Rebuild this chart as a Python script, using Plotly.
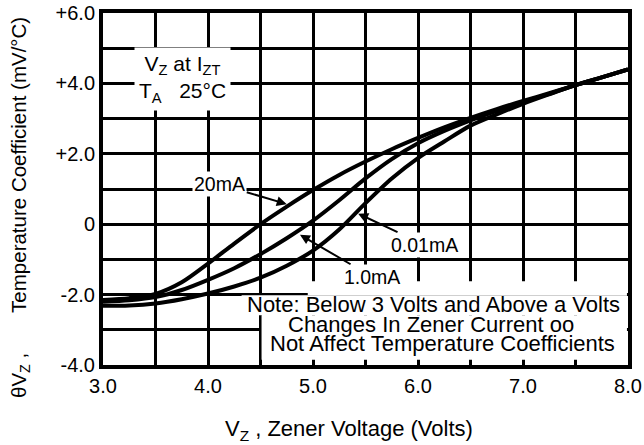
import plotly.graph_objects as go

# Zener voltage (V)
vz = [3.0, 3.25, 3.5, 3.75, 4.0, 4.25, 4.5, 4.75, 5.0, 5.25, 5.5,
      5.75, 6.0, 6.25, 6.5, 6.75, 7.0, 7.25, 7.5, 7.75, 8.0]

# Temperature coefficient (mV/°C) for each test current
tc_20mA = [-2.15, -2.1, -1.98, -1.65, -1.12, -0.55, 0.0, 0.5, 0.97, 1.4, 1.78,
           2.13, 2.45, 2.75, 3.02, 3.27, 3.5, 3.72, 3.95, 4.17, 4.4]
tc_1mA = [-2.2, -2.16, -2.07, -1.87, -1.58, -1.25, -0.85, -0.4, 0.1, 0.68, 1.3,
          1.85, 2.3, 2.65, 2.95, 3.22, 3.47, 3.7, 3.95, 4.17, 4.4]
tc_001mA = [-2.32, -2.31, -2.25, -2.13, -1.97, -1.77, -1.52, -1.18, -0.75, -0.15, 0.6,
            1.3, 1.88, 2.35, 2.8, 3.12, 3.42, 3.69, 3.95, 4.17, 4.4]

x_tick_vals = [3, 4, 5, 6, 7, 8]
x_tick_text = ["3.0", "4.0", "5.0", "6.0", "7.0", "8.0"]
x_minor_vals = [3.5, 4.5, 5.5, 6.5, 7.5]
y_tick_vals = [-4, -2, 0, 2, 4, 6]
y_tick_text = ["-4.0", "-2.0", "0", "+2.0", "+4.0", "+6.0"]
y_minor_vals = [-3, -1, 1, 3, 5]

FONT = "Liberation Sans, Arial, sans-serif"

fig = go.Figure()
for name, ys in [("20mA", tc_20mA), ("1.0mA", tc_1mA), ("0.01mA", tc_001mA)]:
    fig.add_trace(go.Scatter(
        x=vz, y=ys, mode="lines", name=name, showlegend=False,
        line=dict(color="black", width=4, shape="spline", smoothing=0.8),
    ))

# white area behind the note (covers grid lines, below curves)
note_rects = [
    (4.32, 7.99, -2.59, -2.02),
    (4.51, 7.99, -3.85, -2.59),
    (4.95, 7.99, -2.02, -1.62),
]
for x0, x1, y0, y1 in note_rects:
    fig.add_shape(type="rect", x0=x0, x1=x1, y0=y0, y1=y1, xref="x", yref="y",
                  fillcolor="white", line=dict(width=0), layer="between")

ann_font = dict(family=FONT, size=19.5, color="black")

# curve labels with arrows
labels = [
    ("20mA", 4.75, 0.57, -67, -20),
    ("0.01mA", 5.43, 0.30, 66, 31),
    ("1.0mA", 4.876, -0.30, 72, 42),
]
for txt, x, y, ax, ay in labels:
    fig.add_annotation(x=x, y=y, xref="x", yref="y", text=txt, showarrow=True,
                       ax=ax, ay=ay, arrowhead=2, arrowsize=1, arrowwidth=2,
                       arrowcolor="black", bgcolor="white", borderpad=1,
                       font=ann_font)

# conditions box
fig.add_annotation(x=3.76, y=4.12, xref="x", yref="y",
                   text="V<sub>Z</sub> at I<sub>ZT</sub><br>T<sub>A</sub>\u00a0\u00a0 25°C",
                   showarrow=False, bgcolor="white", borderpad=4,
                   font=dict(family=FONT, size=21, color="black"))

# note lines
note_lines = [
    ("Note: Below 3 Volts and Above a Volts", 6.143, -2.27),
    ("Changes In Zener Current oo", 6.124, -2.84),
    ("Not Affect Temperature Coefficients", 6.238, -3.38),
]
for txt, x, y in note_lines:
    fig.add_annotation(x=x, y=y, xref="x", yref="y", text=txt, showarrow=False,
                       font=dict(family=FONT, size=22, color="black"))

# axis titles (placed explicitly to match the reference positions)
fig.add_annotation(
    xref="paper", yref="paper", x=0, y=0.5, xanchor="center", yanchor="middle",
    xshift=-83, yshift=-19, textangle=-90, showarrow=False,
    text="θV<sub>Z</sub> ," + "\u00a0" * 7 + "Temperature Coefficient (mV/°C)",
    font=dict(family=FONT, size=20.5, color="black"),
)
fig.add_annotation(
    xref="paper", yref="paper", x=0.5, y=0, xanchor="center", yanchor="middle",
    xshift=-17, yshift=-65, showarrow=False,
    text="V<sub>Z</sub> , Zener Voltage (Volts)",
    font=dict(family=FONT, size=22, color="black"),
)

fig.update_layout(
    width=644, height=445,
    margin=dict(l=103, r=16, t=13, b=80),
    paper_bgcolor="white", plot_bgcolor="white",
    font=dict(family=FONT, color="black"),
    xaxis=dict(
        range=[3, 8], tickmode="array", tickvals=x_tick_vals, ticktext=x_tick_text,
        showgrid=True, gridcolor="black", gridwidth=3, automargin=False,
        minor=dict(tickmode="array", tickvals=x_minor_vals, showgrid=True,
                   gridcolor="black", gridwidth=3, ticks=""),
        showline=True, linewidth=4, linecolor="black", mirror=True,
        zeroline=False, ticks="", tickfont=dict(family=FONT, size=20),
    ),
    yaxis=dict(
        range=[-4, 6], tickmode="array", tickvals=y_tick_vals, ticktext=y_tick_text,
        showgrid=True, gridcolor="black", gridwidth=3, automargin=False,
        minor=dict(tickmode="array", tickvals=y_minor_vals, showgrid=True,
                   gridcolor="black", gridwidth=2.5, ticks=""),
        showline=True, linewidth=4, linecolor="black", mirror=True,
        zeroline=False, ticks="", tickfont=dict(family=FONT, size=20),
    ),
)

fig.write_html("out.html")
